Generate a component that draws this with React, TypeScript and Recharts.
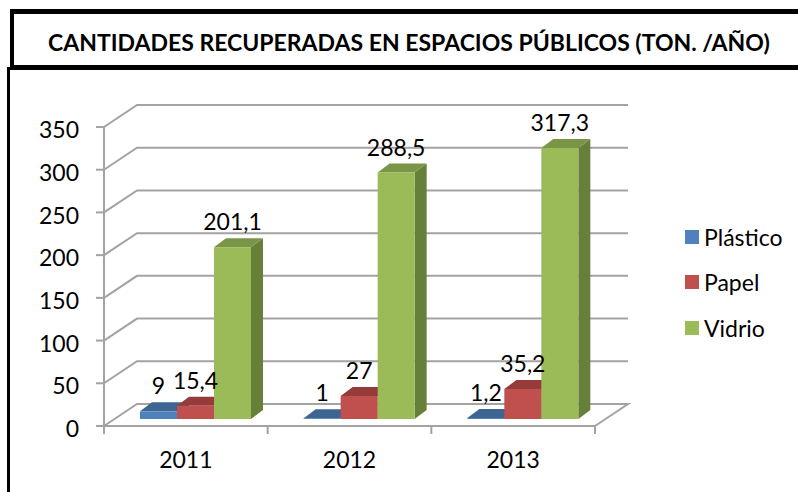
import { BarChart, Bar, XAxis, YAxis, CartesianGrid, Legend, LabelList } from 'recharts'

const years = ['2011', '2012', '2013']
const plastico = [9, 1, 1.2]
const papel = [15.4, 27, 35.2]
const vidrio = [201.1, 288.5, 317.3]
const yTicks = [0, 50, 100, 150, 200, 250, 300, 350]

const rows = years.map((year, i) => ({ year, plastico: plastico[i], papel: papel[i], vidrio: vidrio[i] }))

const FONT = 'Lato, sans-serif'
const GRID = '#a3a3a3'
// profundidad del suelo/pared y de las barras
const WALL_DX = 33
const WALL_DY = 22
const BAR_DX = 12
const BAR_DY = 9
const FLOOR_SHIFT_X = 9
const FLOOR_SHIFT_Y = 7

const shades: Record<string, { front: string; top: string; side: string }> = {
  plastico: { front: '#4f81bd', top: '#3e6592', side: '#35577f' },
  papel: { front: '#c0504d', top: '#953b39', side: '#7f3230' },
  vidrio: { front: '#9bbb59', top: '#7a9545', side: '#66803a' },
}

const bar3d = (name: string) => (props: any) => {
  const { x, y, width, height } = props
  const c = shades[name]
  const l = x + FLOOR_SHIFT_X
  const r = l + width
  const t = y - FLOOR_SHIFT_Y
  const b = t + height
  return (
    <g>
      <polygon points={`${r},${t} ${r + BAR_DX},${t - BAR_DY} ${r + BAR_DX},${b - BAR_DY} ${r},${b}`} fill={c.side} />
      <polygon points={`${l},${t} ${l + BAR_DX},${t - BAR_DY} ${r + BAR_DX},${t - BAR_DY} ${r},${t}`} fill={c.top} />
      <rect x={l} y={t} width={width} height={height} fill={c.front} />
    </g>
  )
}

const valueLabel = (props: any) => {
  const { x, y, width, value } = props
  return (
    <text
      x={x + width / 2 + FLOOR_SHIFT_X}
      y={y - FLOOR_SHIFT_Y - 26}
      textAnchor="middle"
      dominantBaseline="central"
      fontFamily={FONT}
      fontSize={23}
      fill="#000"
    >
      {String(value).replace('.', ',')}
    </text>
  )
}

const gridLine = (props: any) => {
  const { x1, y1, x2 } = props
  const isFloor = y1 > 420
  const d = `M${x1},${y1} L${x1 + WALL_DX},${y1 - WALL_DY} L${x2 + WALL_DX},${y1 - WALL_DY}` + (isFloor ? ` L${x2},${y1}` : '')
  return <path key={props.key ?? y1} d={d} fill="none" stroke={GRID} strokeWidth={2} />
}

const yearTick = (props: any) => {
  const { x, y, index, payload, width } = props
  const step = width / years.length
  const left = x - step / 2
  const top = y - 8
  return (
    <g>
      <line x1={left} y1={top} x2={left} y2={top + 8} stroke={GRID} strokeWidth={2} />
      {index === years.length - 1 && <line x1={left + step} y1={top} x2={left + step} y2={top + 8} stroke={GRID} strokeWidth={2} />}
      <text x={x} y={top + 33} textAnchor="middle" dominantBaseline="central" fontFamily={FONT} fontSize={23} fill="#000">
        {payload.value}
      </text>
    </g>
  )
}

const legendContent = (props: any) => (
  <div style={{ fontFamily: FONT, fontSize: 23, color: '#000' }}>
    {props.payload.map((p: any) => (
      <div key={p.value} style={{ display: 'flex', alignItems: 'center', height: 45.5 }}>
        <span style={{ width: 14, height: 14, background: p.color, marginRight: 5 }} />
        {p.value}
      </div>
    ))}
  </div>
)

export default function App() {
  return (
    <div style={{ position: 'absolute', left: 0, top: 0, width: 798, height: 492, background: '#fff', overflow: 'hidden' }}>
      {/* marco del título */}
      <div
        style={{
          position: 'absolute',
          left: 10,
          top: 9,
          width: 788,
          height: 61,
          boxSizing: 'border-box',
          borderTop: '5px solid #000',
          borderLeft: '4px solid #000',
          borderBottom: '5px solid #000',
        }}
      />
      <div
        style={{
          position: 'absolute',
          left: 48,
          top: 17,
          height: 51,
          lineHeight: '51px',
          fontFamily: FONT,
          fontWeight: 700,
          fontSize: 23,
          color: '#000',
          whiteSpace: 'nowrap',
        }}
      >
        CANTIDADES RECUPERADAS EN ESPACIOS PÚBLICOS (TON. /AÑO)
      </div>
      <div style={{ position: 'absolute', left: 7, top: 67, width: 3, height: 425, background: '#000' }} />
      <BarChart
        width={798}
        height={492}
        data={rows}
        margin={{ top: 127, right: 93, bottom: 26, left: 44 }}
        barCategoryGap={27}
        barGap={0}
        style={{ position: 'absolute', left: 0, top: 0 }}
      >
        <CartesianGrid vertical={false} horizontal={gridLine} />
        <XAxis dataKey="year" height={40} axisLine={{ stroke: GRID, strokeWidth: 2 }} tickLine={false} tick={yearTick} interval={0} />
        <YAxis
          width={60}
          domain={[0, 350]}
          ticks={yTicks}
          interval={0}
          axisLine={{ stroke: GRID, strokeWidth: 2 }}
          tickLine={{ stroke: GRID, strokeWidth: 2 }}
          tickSize={8}
          tickMargin={17}
          tick={{ fontFamily: FONT, fontSize: 23, fill: '#000', dy: 3 }}
        />
        <Legend layout="vertical" align="right" verticalAlign="top" itemSorter={null} content={legendContent} wrapperStyle={{ left: 685, top: 214, width: 110 }} />
        <Bar dataKey="plastico" name="Plástico" fill={shades.plastico.front} shape={bar3d('plastico')} isAnimationActive={false}>
          <LabelList dataKey="plastico" content={valueLabel} />
        </Bar>
        <Bar dataKey="papel" name="Papel" fill={shades.papel.front} shape={bar3d('papel')} isAnimationActive={false}>
          <LabelList dataKey="papel" content={valueLabel} />
        </Bar>
        <Bar dataKey="vidrio" name="Vidrio" fill={shades.vidrio.front} shape={bar3d('vidrio')} isAnimationActive={false}>
          <LabelList dataKey="vidrio" content={valueLabel} />
        </Bar>
      </BarChart>
    </div>
  )
}
